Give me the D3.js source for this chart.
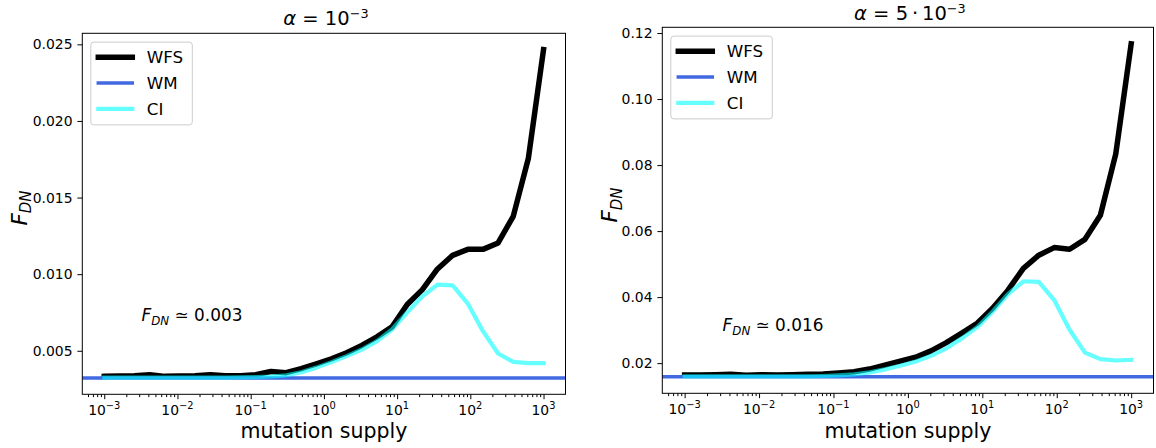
<!DOCTYPE html>
<html><head><meta charset="utf-8">
<script src="https://cdn.jsdelivr.net/npm/d3@7"></script>
<style>
body{margin:0;background:#fff}
svg{display:block}
text{font-family:"DejaVu Sans",sans-serif;fill:#000}
</style>
</head><body>
<svg id="chart" width="1156" height="448"></svg>
<script>
// ---------- data ----------
const mutationSupply = [0.001, 0.00161, 0.002593, 0.004175, 0.006723, 0.010826, 0.017433, 0.028072,
  0.045204, 0.07279, 0.11721, 0.188739, 0.30392, 0.48939, 0.788046, 1.268961, 2.04336, 3.290345,
  5.298317, 8.531679, 13.738238, 22.122, 35.622, 57.362, 92.367, 148.735, 239.503, 385.662, 621.017, 1000];

const wfsLow = [0.00333,0.00335,0.00337,0.00344,0.00333,0.00335,0.00337,0.00344,0.00337,0.00337,
  0.00344,0.00365,0.00357,0.00383,0.00415,0.00448,0.00487,0.00535,0.00591,0.00656,
  0.00802,0.00899,0.01034,0.01123,0.01162,0.01162,0.01204,0.01377,0.01757,0.02465];
const ciLow = [0.00325,0.00325,0.00325,0.00325,0.00325,0.00325,0.00325,0.00325,0.00325,0.00326,
  0.00328,0.00332,0.0034,0.0036,0.0039,0.00426,0.00465,0.00508,0.00563,0.00639,
  0.00751,0.00856,0.00932,0.00927,0.00808,0.00628,0.00482,0.00428,0.00419,0.00419];
const wmLow = 0.00323;

const wfsHigh = [0.01638,0.0164,0.0165,0.0166,0.0163,0.0165,0.0164,0.0165,0.0166,0.0167,
  0.0170,0.0174,0.0182,0.0194,0.0206,0.0218,0.0237,0.0262,0.0291,0.0321,
  0.0366,0.0421,0.0487,0.0527,0.0550,0.0545,0.0575,0.0648,0.0834,0.1167];
const ciHigh = [0.0160,0.0160,0.0160,0.0160,0.0160,0.0160,0.0160,0.0160,0.0160,0.0161,
  0.0163,0.0166,0.0172,0.0181,0.0192,0.0205,0.0222,0.0245,0.0275,0.0309,
  0.0356,0.0409,0.0448,0.0446,0.0391,0.0301,0.0232,0.0212,0.0208,0.0210];
const wmHigh = 0.0159;

const yTicksLow = [0.005, 0.010, 0.015, 0.020, 0.025];
const yTicksHigh = [0.02, 0.04, 0.06, 0.08, 0.10, 0.12];
const xTickExponents = [-3, -2, -1, 0, 1, 2, 3];
const seriesNames = ["WFS", "WM", "CI"];
const annotationValues = ["0.003", "0.016"];
const xLabel = "mutation supply";

// ---------- style ----------
const colors = {WFS: "#000000", WM: "#4169e1", CI: "#00ffff"};
const widths = {WFS: 5.5, WM: 3.5, CI: 4.2};
const opac = {WFS: 1, WM: 1, CI: 0.6};

const svg = d3.select("#chart");

const panels = [
  {x0: 82.3, x1: 565.5, y0: 33.3, y1: 394.3, wfs: wfsLow, ci: ciLow, wm: wmLow,
   yTicks: yTicksLow, yFmt: d3.format(".3f"), titlePre: "10", ann: annotationValues[0],
   annX: 141.5, annY: 320.7, ylabX: 26.5, ylabY: 208, titleY: 25},
  {x0: 662.3, x1: 1153.5, y0: 27.3, y1: 393.3, wfs: wfsHigh, ci: ciHigh, wm: wmHigh,
   yTicks: yTicksHigh, yFmt: d3.format(".2f"), titlePre: "5\u2009·\u200910", ann: annotationValues[1],
   annX: 722.6, annY: 330.7, ylabX: 617, ylabY: 205, titleY: 19.5}
];

panels.forEach(p => {
  const g = svg.append("g");
  const x = d3.scaleLog().domain([Math.pow(10, -3.3), Math.pow(10, 3.3)]).range([p.x0, p.x1]);
  const all = p.wfs.concat(p.ci, [p.wm]);
  const lo = d3.min(all), hi = d3.max(all), pad = (hi - lo) * 0.05;
  const y = d3.scaleLinear().domain([lo - pad, hi + pad]).range([p.y1, p.y0]);

  // minor x ticks
  const minors = [];
  for (let e = -4; e <= 3; e++) for (let m = 2; m <= 9; m++) {
    const v = m * Math.pow(10, e);
    if (v >= x.domain()[0] && v <= x.domain()[1]) minors.push(v);
  }
  const gxm = g.append("g").attr("transform", `translate(0,${p.y1})`)
    .call(d3.axisBottom(x).tickValues(minors).tickSize(2.8).tickSizeOuter(0).tickFormat(""));
  gxm.select(".domain").remove();
  const majors = xTickExponents.map(e => Math.pow(10, e));
  const gx = g.append("g").attr("transform", `translate(0,${p.y1})`)
    .call(d3.axisBottom(x).tickValues(majors).tickSize(4.9).tickSizeOuter(0).tickFormat(""));
  gx.select(".domain").remove();
  g.selectAll(".tick line").attr("stroke", "#000").attr("stroke-width", 1);

  xTickExponents.forEach(e => {
    const t = g.append("text").attr("x", x(Math.pow(10, e))).attr("y", p.y1 + 20.5)
      .attr("text-anchor", "middle").style("font-size", "13.9px");
    t.append("tspan").text("10");
    t.append("tspan").attr("dy", -6).style("font-size", "9.9px").text((e < 0 ? "−" : "") + Math.abs(e));
  });

  const gy = g.append("g").attr("transform", `translate(${p.x0},0)`)
    .call(d3.axisLeft(y).tickValues(p.yTicks).tickSize(4.9).tickPadding(4.9).tickSizeOuter(0).tickFormat(p.yFmt));
  gy.select(".domain").remove();
  gy.selectAll(".tick line").attr("stroke", "#000").attr("stroke-width", 1);
  gy.selectAll(".tick text").style("font-size", "13.9px").style("font-family", "DejaVu Sans");

  // series
  const line = d3.line().x(d => x(d[0])).y(d => y(d[1]));
  const plot = g.append("g");
  plot.append("path").datum(mutationSupply.map((m, i) => [m, p.wfs[i]]))
    .attr("d", line).attr("fill", "none").attr("stroke", colors.WFS).attr("stroke-width", widths.WFS)
    .attr("stroke-linejoin", "round").attr("stroke-linecap", "square");
  plot.append("line").attr("x1", p.x0).attr("x2", p.x1).attr("y1", y(p.wm)).attr("y2", y(p.wm))
    .attr("stroke", colors.WM).attr("stroke-width", widths.WM);
  plot.append("path").datum(mutationSupply.map((m, i) => [m, p.ci[i]]))
    .attr("d", line).attr("fill", "none").attr("stroke", colors.CI).attr("stroke-opacity", opac.CI)
    .attr("stroke-width", widths.CI).attr("stroke-linejoin", "round").attr("stroke-linecap", "square");

  // frame
  g.append("rect").attr("x", p.x0).attr("y", p.y0).attr("width", p.x1 - p.x0).attr("height", p.y1 - p.y0)
    .attr("fill", "none").attr("stroke", "#000").attr("stroke-width", 1);

  // title
  const tt = g.append("text").attr("x", (p.x0 + p.x1) / 2 + 2).attr("y", p.titleY)
    .attr("text-anchor", "middle").style("font-size", "19.5px");
  tt.append("tspan").style("font-style", "italic").text("α");
  tt.append("tspan").text(" = " + p.titlePre);
  tt.append("tspan").attr("dy", -6.8).style("font-size", "12.8px").text("−3");

  // x label
  g.append("text").attr("x", (p.x0 + p.x1) / 2).attr("y", 437.5).attr("text-anchor", "middle")
    .style("font-size", "20.5px").text(xLabel);

  // y label
  const yl = g.append("text").attr("transform", `translate(${p.ylabX},${p.ylabY}) rotate(-90)`)
    .attr("text-anchor", "middle").style("font-size", "21.5px");
  yl.append("tspan").style("font-style", "italic").text("F");
  yl.append("tspan").attr("dy", 4.8).style("font-style", "italic").style("font-size", "15px").text("DN");

  // annotation
  const an = g.append("text").attr("x", p.annX).attr("y", p.annY).style("font-size", "16.9px");
  an.append("tspan").style("font-style", "italic").text("F");
  an.append("tspan").attr("dy", 3.8).style("font-style", "italic").style("font-size", "11.8px").text("DN");
  an.append("tspan").attr("dy", -3.8).text(" ≃ " + p.ann);

  // legend
  const lx = p.x0 + 8.5, ly = p.y0 + 8.8;
  const lg = g.append("g").attr("transform", `translate(${lx},${ly})`);
  lg.append("rect").attr("x", 0).attr("y", 0).attr("width", 101.5).attr("height", 82.8).attr("rx", 3)
    .attr("fill", "#fff").attr("fill-opacity", 0.8).attr("stroke", "#cccccc").attr("stroke-width", 1);
  seriesNames.forEach((s, i) => {
    const cy = 15.2 + i * 25.8;
    lg.append("line").attr("x1", 7.5).attr("x2", 41.5).attr("y1", cy).attr("y2", cy)
      .attr("stroke", colors[s]).attr("stroke-opacity", opac[s]).attr("stroke-width", widths[s])
      .attr("stroke-linecap", "square");
    lg.append("text").attr("x", 56).attr("y", cy + 6.1).style("font-size", "16.7px").text(s);
  });
});
</script>
</body></html>
